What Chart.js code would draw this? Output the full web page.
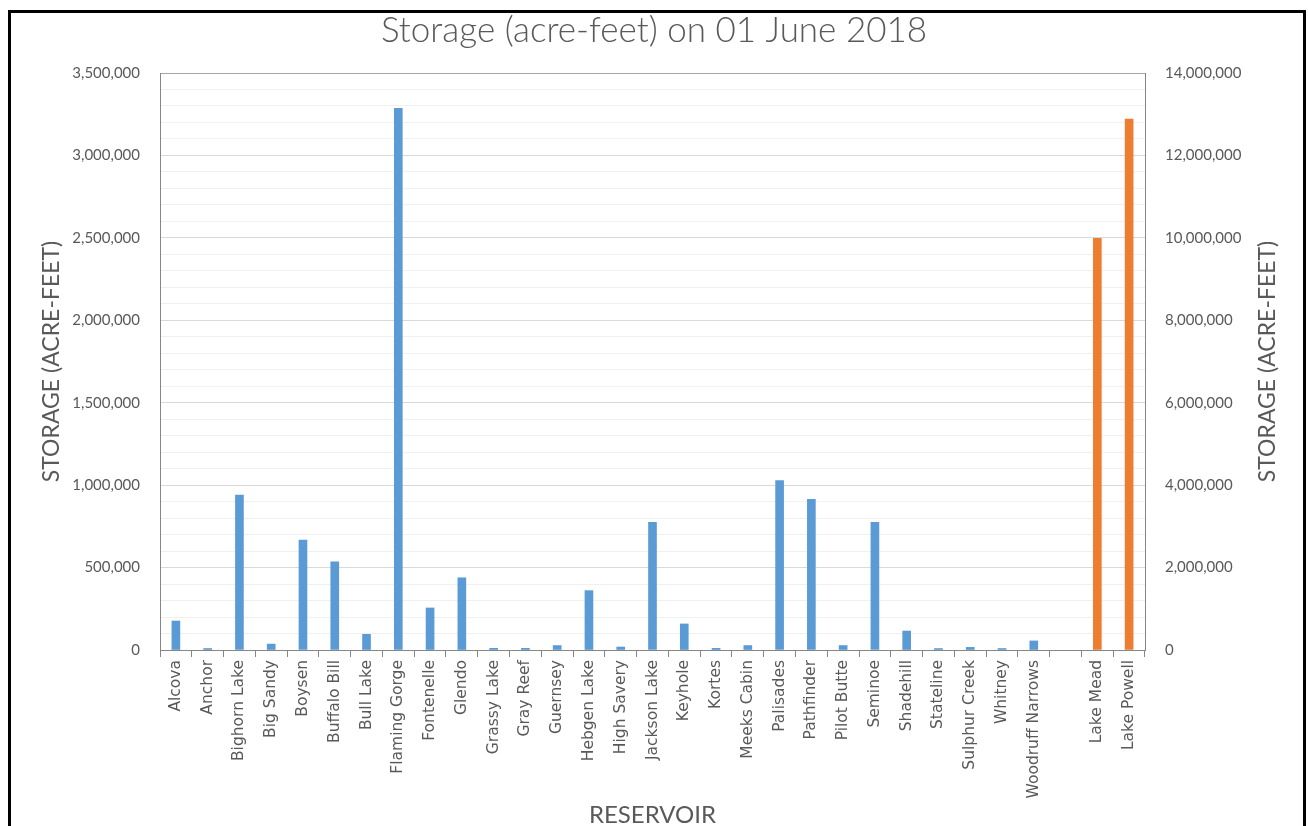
<!DOCTYPE html>
<html>
<head>
<meta charset="utf-8">
<style>
  body { margin: 0; background: #fff; }
</style>
<script src="https://cdn.jsdelivr.net/npm/chart.js@4"></script>
</head>
<body>
<canvas id="storageChart" width="1308" height="826"></canvas>
<script>
// reservoir names, blank slot separates the two big lakes
var reservoirs = ['Alcova', 'Anchor', 'Bighorn Lake', 'Big Sandy', 'Boysen', 'Buffalo Bill', 'Bull Lake',
  'Flaming Gorge', 'Fontenelle', 'Glendo', 'Grassy Lake', 'Gray Reef', 'Guernsey', 'Hebgen Lake',
  'High Savery', 'Jackson Lake', 'Keyhole', 'Kortes', 'Meeks Cabin', 'Palisades', 'Pathfinder',
  'Pilot Butte', 'Seminoe', 'Shadehill', 'Stateline', 'Sulphur Creek', 'Whitney', 'Woodruff Narrows',
  '', 'Lake Mead', 'Lake Powell'];

// storage (acre-feet)
var smallStorage = [176000, 9000, 940000, 36000, 667000, 535000, 95000,
  3285000, 255000, 438000, 10000, 10000, 27000, 360000,
  18000, 774000, 158000, 10000, 27000, 1027000, 914000,
  27000, 774000, 115000, 9000, 16000, 9000, 55000,
  null, null, null];

// storage (acre-feet)
var bigStorage = [null, null, null, null, null, null, null,
  null, null, null, null, null, null, null,
  null, null, null, null, null, null, null,
  null, null, null, null, null, null, null,
  null, 9990000, 12880000];

var leftTicks = { min: 0, max: 3500000, step: 100000, labelEvery: 500000 };
var rightTicks = { min: 0, max: 14000000, step: 2000000 };

var textGrey = '#595959';
var axisGrey = '#868686';

function fmt(v) {
  return v.toLocaleString('en-US');
}

// white page, black frame and the right-hand axis title (reads bottom to top)
var framePlugin = {
  id: 'frame',
  beforeDraw: function (chart) {
    var c = chart.ctx;
    c.save();
    c.fillStyle = '#fff';
    c.fillRect(0, 0, chart.width, chart.height);
    c.restore();
  },
  afterDraw: function (chart) {
    var c = chart.ctx;
    var area = chart.chartArea;
    c.save();
    c.strokeStyle = '#000';
    c.lineWidth = 3;
    c.strokeRect(9.5, 11.5, 1295, 830);
    c.translate(1268, (area.top + area.bottom) / 2);
    c.rotate(-Math.PI / 2);
    c.fillStyle = textGrey;
    c.font = '23px Lato';
    c.textAlign = 'center';
    c.textBaseline = 'middle';
    c.fillText('STORAGE (ACRE-FEET)', 0, 0);
    c.restore();
  }
};

var ctx = document.getElementById('storageChart').getContext('2d');

var myBarChart = new Chart(ctx, {
  type: 'bar',
  data: {
    labels: reservoirs,
    datasets: [
      { label: 'Storage', data: smallStorage, yAxisID: 'y', backgroundColor: '#5B9BD5',
        grouped: false, barThickness: 8 },
      { label: 'Storage (large)', data: bigStorage, yAxisID: 'y2', backgroundColor: '#ED7D31',
        grouped: false, barThickness: 8 }
    ]
  },
  options: {
    responsive: false,
    animation: false,
    layout: { padding: 0 },
    plugins: {
      legend: { display: false },
      tooltip: { enabled: false },
      title: {
        display: true,
        text: 'Storage (acre-feet) on 01 June 2018',
        color: textGrey,
        font: { family: 'Lato', size: 35, weight: 300 },
        padding: { top: 9.5, bottom: 21.5 }
      }
    },
    scales: {
      x: {
        afterFit: function (scale) { scale.height = 176; },
        grid: { offset: true, drawOnChartArea: false, drawTicks: true, tickLength: 7, color: axisGrey },
        border: { color: axisGrey },
        ticks: {
          autoSkip: false, minRotation: 90, maxRotation: 90, padding: 3,
          color: textGrey, font: { family: 'DejaVu Sans', size: 15.5 }
        },
        title: {
          display: true, text: 'RESERVOIR', color: textGrey,
          font: { family: 'Lato', size: 24 }, padding: { top: 0, bottom: -4 }
        }
      },
      y: {
        position: 'left',
        min: leftTicks.min,
        max: leftTicks.max,
        afterFit: function (scale) { scale.width = 160; },
        grid: {
          drawTicks: false,
          color: function (c) {
            var v = c.tick.value;
            if (v === leftTicks.max) return '#a6a6a6';
            return v % leftTicks.labelEvery === 0 ? '#d9d9d9' : '#f0f0f0';
          }
        },
        border: { color: axisGrey },
        ticks: {
          stepSize: leftTicks.step, autoSkip: false, padding: 20,
          color: textGrey, font: { family: 'Lato', size: 15 },
          callback: function (v) { return v % leftTicks.labelEvery === 0 ? fmt(v) : ''; }
        },
        title: {
          display: true, text: 'STORAGE (ACRE-FEET)', color: textGrey,
          font: { family: 'Lato', size: 23 }, padding: { top: 38.2, bottom: 0 }
        }
      },
      y2: {
        position: 'right',
        min: rightTicks.min,
        max: rightTicks.max,
        afterFit: function (scale) { scale.width = 163; },
        grid: { drawOnChartArea: false, drawTicks: false },
        border: { color: axisGrey },
        ticks: {
          stepSize: rightTicks.step, padding: 20,
          color: textGrey, font: { family: 'Lato', size: 15 },
          callback: function (v) { return fmt(v); }
        }
      }
    }
  },
  plugins: [framePlugin]
});
</script>
</body>
</html>
